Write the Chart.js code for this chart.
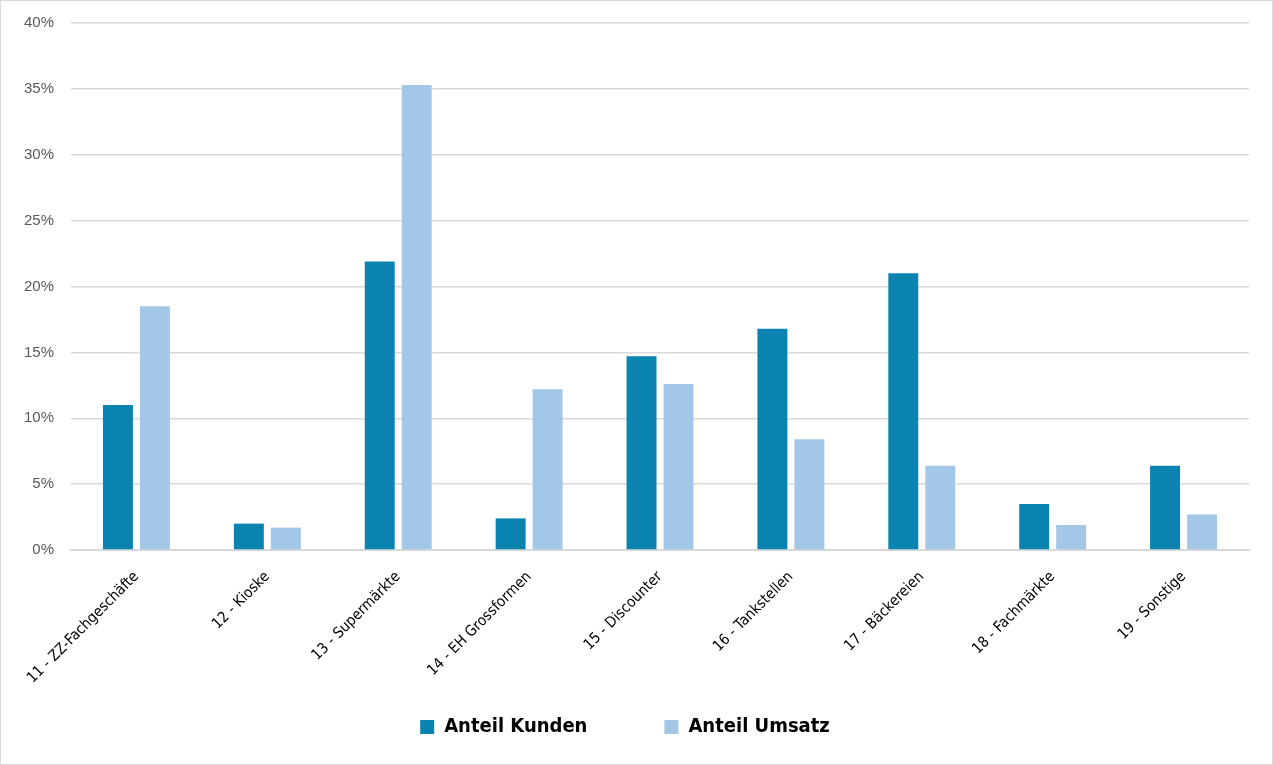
<!DOCTYPE html>
<html>
<head>
<meta charset="utf-8">
<script src="https://cdn.jsdelivr.net/npm/chart.js@4"></script>
<style>
  html, body { margin: 0; padding: 0; background: #fff; }
  #wrap { width: 1273px; height: 765px; box-sizing: border-box; border: 1px solid #d9d9d9; }
</style>
</head>
<body>
<div id="wrap"><canvas id="chart" width="1271" height="763"></canvas></div>
<script>
var categories = [
    "11 - ZZ-Fachgeschäfte", "12 - Kioske", "13 - Supermärkte", "14 - EH Grossformen",
    "15 - Discounter", "16 - Tankstellen", "17 - Bäckereien", "18 - Fachmärkte", "19 - Sonstige"
];
var anteilKunden = [0.110, 0.020, 0.219, 0.024, 0.147, 0.168, 0.210, 0.035, 0.064];
var anteilUmsatz = [0.185, 0.017, 0.353, 0.122, 0.126, 0.084, 0.064, 0.019, 0.027];
var yTicks = [0, 0.05, 0.10, 0.15, 0.20, 0.25, 0.30, 0.35, 0.40];

document.addEventListener("DOMContentLoaded", function () {
    var ctx = document.getElementById("chart").getContext("2d");
    var narrow = "'DejaVu Sans Condensed', 'Liberation Sans Narrow', 'Liberation Sans', sans-serif";

    new Chart(ctx, {
        type: "bar",
        data: {
            labels: categories,
            datasets: [
                {
                    label: "Anteil Kunden",
                    data: anteilKunden,
                    backgroundColor: "#0b83b1",
                    categoryPercentage: 0.565,
                    barPercentage: 0.81,
                },
                {
                    label: "Anteil Umsatz",
                    data: anteilUmsatz,
                    backgroundColor: "#a3c7e6",
                    categoryPercentage: 0.565,
                    barPercentage: 0.81,
                },
            ],
        },
        options: {
            responsive: false,
            animation: false,
            layout: { padding: { top: 22, right: 23, left: 0, bottom: 17 } },
            plugins: {
                tooltip: { enabled: false },
                legend: {
                    position: "bottom",
                    labels: {
                        boxWidth: 14,
                        boxHeight: 14,
                        padding: 77,
                        color: "#000",
                        font: { family: narrow, size: 20, weight: "bold" },
                    },
                },
            },
            scales: {
                x: {
                    grid: { display: false, drawTicks: false },
                    border: { color: "#d9d9d9", width: 2 },
                    ticks: {
                        maxRotation: 45,
                        minRotation: 45,
                        color: "#000",
                        padding: 18,
                        font: { family: narrow, size: 15 },
                    },
                    afterFit: function (scale) {
                        scale.height = 90;
                        // rotated labels reach below the axis box, don't clip them
                        scale._computeLabelArea = function () { return null; };
                    },
                },
                y: {
                    min: 0,
                    max: 0.4,
                    afterBuildTicks: function (scale) {
                        scale.ticks = yTicks.map(function (v) { return { value: v }; });
                    },
                    grid: { color: "#d9d9d9", lineWidth: 1.5, drawTicks: false },
                    border: { display: false },
                    ticks: {
                        color: "#595959",
                        padding: 17,
                        font: { family: "'Liberation Sans', Arial, sans-serif", size: 15 },
                        callback: function (v) { return Math.round(v * 100) + "%"; },
                    },
                    afterFit: function (scale) {
                        scale.width = 70;
                        scale.paddingTop = 0;
                        scale.paddingBottom = 0;
                    },
                },
            },
        },
    });
});
</script>
</body>
</html>
